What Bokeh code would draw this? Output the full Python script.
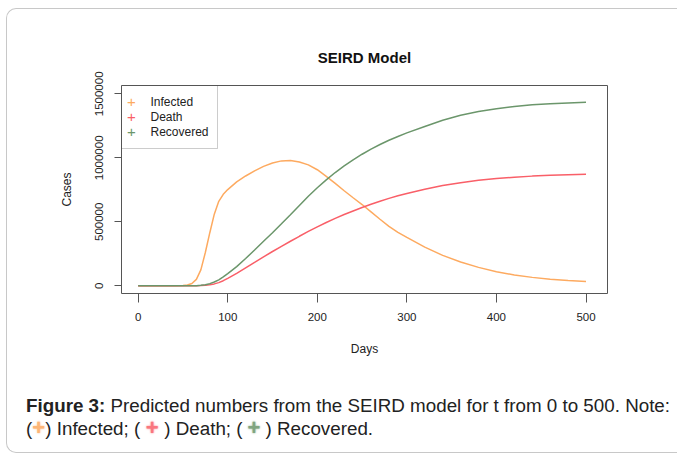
from bokeh.plotting import figure
from bokeh.layouts import column
from bokeh.models import Range1d, FixedTicker, NumeralTickFormatter, Label, BoxAnnotation, Div
from bokeh.embed import file_html
from bokeh.resources import INLINE

# ---------------- data ----------------
days = [0, 10, 20, 30, 40, 50, 55, 60, 65, 70, 75, 80, 85, 90, 95, 100,
        110, 120, 130, 140, 150, 160, 170, 180, 190, 200, 210, 220, 230, 240,
        250, 260, 270, 280, 290, 300, 320, 340, 360, 380, 400, 420, 440, 460,
        480, 500]

infected = [0, 0, 0, 200, 800, 2500, 6000, 18000, 50000, 125000, 260000,
            415000, 560000, 660000, 715000, 752000,
            812000, 858000, 898000, 933000, 960000, 976000, 979000, 968000,
            945000, 907000, 855000, 800000, 743000, 688000, 635000, 578000,
            520000, 465000, 418000, 378000,
            302000, 238000, 186000, 144000, 110000, 85000, 66000, 52000,
            42000, 34000]

death = [0, 0, 0, 0, 0, 0, 0, 200, 800, 2000, 4500, 8500, 15000, 25000,
         40000, 58000,
         97000, 140000, 183000, 226000, 268000, 308000, 348000, 387000,
         425000, 461000, 495000, 527000, 557000, 585000, 612000, 637000,
         661000, 683000, 703000, 722000,
         755000, 783000, 806000, 824000, 838000, 849000, 857000, 863000,
         868000, 872000]

recovered = [0, 0, 0, 0, 0, 0, 0, 500, 1500, 4000, 9000, 17000, 30000,
             47000, 70000, 95000,
             150000, 213000, 280000, 348000, 415000, 485000, 556000, 628000,
             700000, 766000, 828000, 885000, 937000, 984000, 1028000, 1068000,
             1104000, 1137000, 1167000, 1195000,
             1245000, 1294000, 1333000, 1362000, 1384000, 1401000, 1414000,
             1423000, 1429000, 1434000]

series_names = ["Infected", "Death", "Recovered"]
series_values = [infected, death, recovered]
series_colors = ["#FDAA60", "#F95F68", "#6B966B"]

x_ticks = [0, 100, 200, 300, 400, 500]
y_ticks = [0, 500000, 1000000, 1500000]

title_text = "SEIRD Model"
x_label = "Days"
y_label = "Cases"
caption_bold = "Figure 3:"
caption_line1 = "Predicted numbers from the SEIRD model for t from 0 to 500. Note:"
caption_line2 = [") Infected; (", ") Death; (", ") Recovered."]
plus_slots = [13, 24, 23]

FONT = "Liberation Sans"
TXT = "#222222"

# ---------------- figure ----------------
p = figure(width=678, height=380, output_backend="svg", toolbar_location=None,
           x_range=Range1d(-18.6, 524), y_range=Range1d(-60000, 1565000),
           min_border_left=121, min_border_right=71,
           min_border_top=85, min_border_bottom=87,
           title=title_text)

p.background_fill_color = "white"
p.border_fill_color = "white"
p.outline_line_color = "#555555"
p.outline_line_width = 1
p.xgrid.visible = False
p.ygrid.visible = False

p.title.align = "center"
p.title.text_font = FONT
p.title.text_font_size = "15px"
p.title.text_font_style = "bold"
p.title.text_color = "#111111"
p.title.standoff = 39

for ax in (p.xaxis[0], p.yaxis[0]):
    ax.axis_line_color = None
    ax.major_tick_line_color = "#555555"
    ax.minor_tick_line_color = None
    ax.major_tick_in = 0
    ax.major_label_text_font = FONT
    ax.major_label_text_font_size = "11.5px"
    ax.major_label_text_color = TXT
    ax.axis_label_text_font = FONT
    ax.axis_label_text_font_size = "12px"
    ax.axis_label_text_font_style = "normal"
    ax.axis_label_text_color = TXT

p.xaxis.ticker = FixedTicker(ticks=x_ticks)
p.yaxis.ticker = FixedTicker(ticks=y_ticks)
p.yaxis.formatter = NumeralTickFormatter(format="0")
p.xaxis.axis_label = x_label
p.yaxis.axis_label = y_label
p.xaxis.major_tick_out = 9
p.yaxis.major_tick_out = 7
p.xaxis.major_label_standoff = 10
p.yaxis.major_label_standoff = 11
p.yaxis.major_label_orientation = "vertical"
p.xaxis.axis_label_standoff = 18
p.yaxis.axis_label_standoff = 19

for vals, col in zip(series_values, series_colors):
    p.line(days, vals, line_color=col, line_width=1.5)

# ---------------- legend (R-style, "+" symbols) ----------------
p.add_layout(BoxAnnotation(left=0, right=96, top=208, bottom=145,
                           left_units="screen", right_units="screen",
                           top_units="screen", bottom_units="screen",
                           fill_color=None, line_color="#555555", line_width=1))
for i, (name, col) in enumerate(zip(series_names, series_colors)):
    ys = 192 - 15 * i
    p.add_layout(Label(x=10, y=ys, x_units="screen", y_units="screen", text="+",
                       text_color=col, text_font=FONT, text_font_size="15px",
                       text_align="center", text_baseline="middle"))
    p.add_layout(Label(x=29, y=ys, x_units="screen", y_units="screen", text=name,
                       text_color=TXT, text_font=FONT, text_font_size="12px",
                       text_align="left", text_baseline="middle"))

# ---------------- caption (HTML below the plot) ----------------
def plus(col, w):
    return ('<span style="display:inline-block;width:%dpx;text-align:center;'
            'color:%s;font-weight:bold;font-size:22px;opacity:0.85;'
            'text-shadow:0 0 2px %s">+</span>' % (w, col, col))

line2 = "("
for part, col, w in zip(caption_line2, series_colors, plus_slots):
    line2 += plus(col, w) + part

html = (
    '<div style="position:relative;width:678px;height:79px;margin:0;'
    'padding:15px 0 0 26px;box-sizing:border-box;white-space:nowrap;'
    "font-family:'Liberation Sans',Arial,sans-serif;font-size:18.8px;"
    'line-height:22px;color:%s">'
    '<b>%s</b> %s<br>%s'
    '<div style="position:absolute;left:6px;top:-372px;width:671px;height:445px;'
    'border:1px solid #c8c8c8;border-right:none;border-radius:10px 0 0 10px;'
    'pointer-events:none"></div>'
    '</div>' % (TXT, caption_bold, caption_line1, line2)
)
cap = Div(text=html, width=678, height=79, margin=0)

layout = column(p, cap, spacing=0)
open("out.html", "w").write(file_html(layout, INLINE))
